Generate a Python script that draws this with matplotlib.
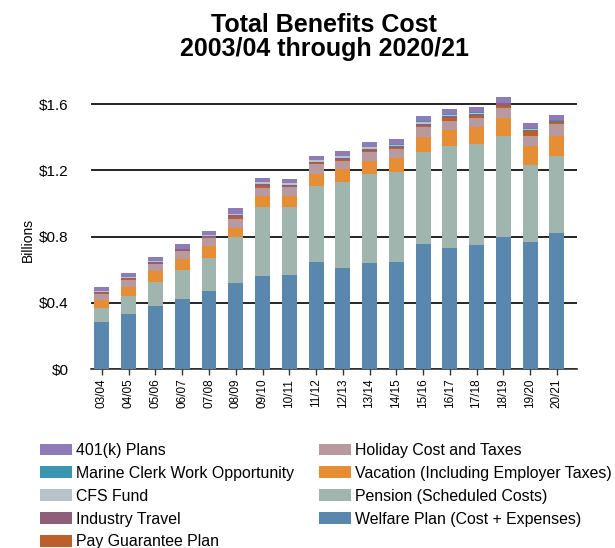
import matplotlib.pyplot as plt
import numpy as np

plt.rcParams['font.family'] = ['Liberation Sans', 'DejaVu Sans']

years = ["03/04", "04/05", "05/06", "06/07", "07/08", "08/09", "09/10", "10/11", "11/12",
         "12/13", "13/14", "14/15", "15/16", "16/17", "17/18", "18/19", "19/20", "20/21"]

# billions of dollars, stacked bottom to top
welfare = [0.286, 0.332, 0.379, 0.422, 0.470, 0.518, 0.564, 0.568, 0.646,
           0.610, 0.640, 0.646, 0.753, 0.729, 0.747, 0.795, 0.765, 0.819]
pension = [0.085, 0.109, 0.147, 0.176, 0.199, 0.277, 0.416, 0.408, 0.462,
           0.520, 0.540, 0.544, 0.560, 0.617, 0.611, 0.611, 0.468, 0.470]
vacation = [0.046, 0.052, 0.064, 0.064, 0.072, 0.060, 0.068, 0.072, 0.072,
            0.077, 0.078, 0.085, 0.092, 0.100, 0.102, 0.108, 0.112, 0.120]
holiday = [0.036, 0.044, 0.044, 0.050, 0.048, 0.050, 0.046, 0.050, 0.056,
           0.052, 0.054, 0.056, 0.055, 0.054, 0.058, 0.066, 0.066, 0.073]
pay_guarantee = [0.006, 0.004, 0.003, 0.002, 0.003, 0.012, 0.010, 0.004, 0.006,
                 0.006, 0.006, 0.004, 0.008, 0.014, 0.008, 0.010, 0.026, 0.012]
travel = [0.008, 0.012, 0.012, 0.010, 0.013, 0.014, 0.014, 0.010, 0.010,
          0.012, 0.014, 0.014, 0.014, 0.016, 0.016, 0.016, 0.010, 0.004]
cfs = [0.006, 0.002, 0.006, 0.002, 0.002, 0.004, 0.010, 0.010, 0.010,
       0.010, 0.010, 0.006, 0.010, 0.006, 0.006, 0.002, 0.004, 0.002]
marine_clerk = [0.000, 0.000, 0.000, 0.000, 0.000, 0.003, 0.000, 0.000, 0.000,
                0.000, 0.000, 0.004, 0.004, 0.006, 0.006, 0.002, 0.006, 0.006]
plans_401k = [0.022, 0.024, 0.022, 0.029, 0.030, 0.032, 0.028, 0.025, 0.024,
              0.028, 0.028, 0.030, 0.032, 0.032, 0.028, 0.032, 0.028, 0.028]

series = [
    ("Welfare Plan (Cost + Expenses)", welfare, "#5a87ad"),
    ("Pension (Scheduled Costs)", pension, "#9fb5ae"),
    ("Vacation (Including Employer Taxes)", vacation, "#e58e35"),
    ("Holiday Cost and Taxes", holiday, "#b89a9e"),
    ("Pay Guarantee Plan", pay_guarantee, "#bc5f2a"),
    ("Industry Travel", travel, "#8f5e78"),
    ("CFS Fund", cfs, "#b8c3c8"),
    ("Marine Clerk Work Opportunity", marine_clerk, "#3a95b0"),
    ("401(k) Plans", plans_401k, "#8e7cb8"),
]

fig = plt.figure(figsize=(6.15, 5.48), dpi=100)
ax = fig.add_axes([0.148, 0.3266, 0.79, 0.5134])

x = np.arange(len(years))
bottom = np.zeros(len(years))
handles = []
for name, values, color in series:
    bars = ax.bar(x, values, 0.56, bottom=bottom, color=color, label=name,
                  linewidth=0, zorder=3)
    handles.append(bars)
    bottom += np.array(values)

ax.set_xlim(-0.41, 17.75)
ax.set_ylim(0, 1.7)
ax.set_yticks([0, 0.4, 0.8, 1.2, 1.6])
ax.set_yticklabels(["$0", "$0.4", "$0.8", "$1.2", "$1.6"], fontsize=11)
ax.set_xticks(x)
ax.set_xticklabels(years, rotation=90, fontsize=8.5)
ax.tick_params(axis="y", length=0, pad=16)
ax.tick_params(axis="x", length=4, width=1, color="#333333", pad=3)
ax.grid(axis="y", color="black", linewidth=1.2, zorder=0)

for side in ["top", "right", "left"]:
    ax.spines[side].set_visible(False)
ax.spines["bottom"].set_linewidth(1.2)
ax.spines["bottom"].set_color("#333333")

ax.set_ylabel("Billions", fontsize=10)
ax.yaxis.set_label_coords(-0.115, 0.46)

fig.text(0.527, 0.932, "Total Benefits Cost\n2003/04 through 2020/21",
         ha="center", va="center", fontsize=18, fontweight="bold", linespacing=1.0)

fig.legend(handles[::-1], [s[0] for s in series[::-1]], ncol=2,
           loc="upper left", bbox_to_anchor=(0.065, 0.192), frameon=False,
           fontsize=11.4, handlelength=2.0, handleheight=0.74,
           handletextpad=0.25, columnspacing=1.6, labelspacing=0.5,
           borderaxespad=0, borderpad=0)

fig.savefig("out.png", dpi=100)
